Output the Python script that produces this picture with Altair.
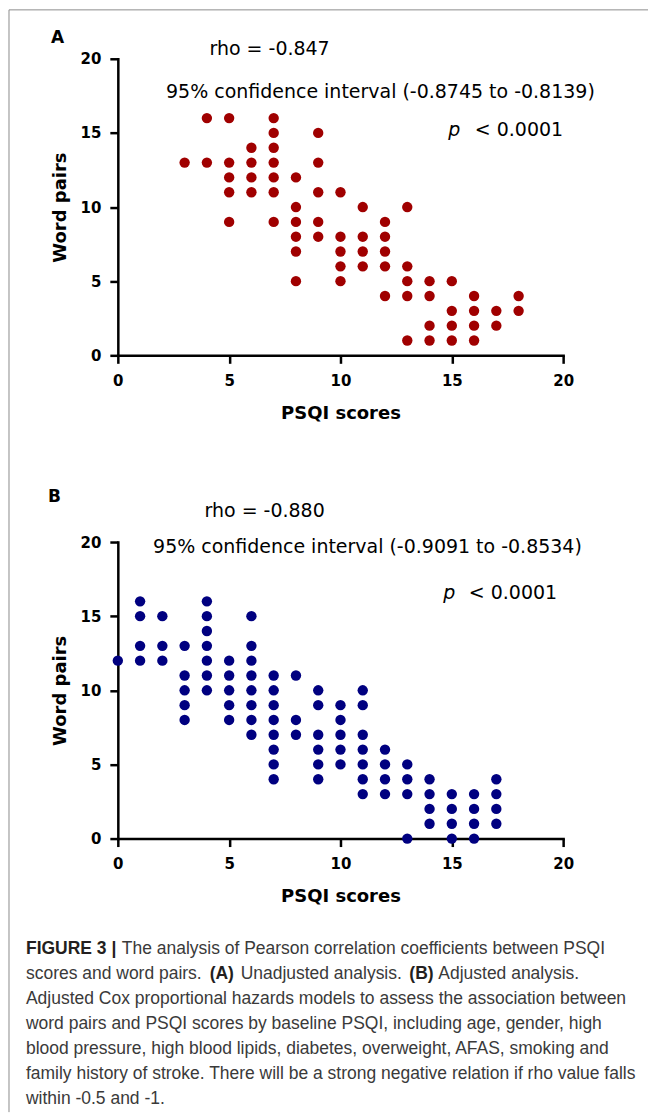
import altair as alt
import pandas as pd

# ---------------- data ----------------
# Panel A (unadjusted analysis)
a_psqi = [3,
          4, 4,
          5, 5, 5, 5, 5,
          6, 6, 6, 6,
          7, 7, 7, 7, 7, 7, 7,
          8, 8, 8, 8, 8, 8,
          9, 9, 9, 9, 9,
          10, 10, 10, 10, 10,
          11, 11, 11, 11,
          12, 12, 12, 12, 12,
          13, 13, 13, 13, 13,
          14, 14, 14, 14,
          15, 15, 15, 15,
          16, 16, 16, 16,
          17, 17,
          18, 18]
a_pairs = [13,
           16, 13,
           16, 13, 12, 11, 9,
           14, 13, 12, 11,
           16, 15, 14, 13, 12, 11, 9,
           12, 10, 9, 8, 7, 5,
           15, 13, 11, 9, 8,
           11, 8, 7, 6, 5,
           10, 8, 7, 6,
           9, 8, 7, 6, 4,
           10, 6, 5, 4, 1,
           5, 4, 2, 1,
           5, 3, 2, 1,
           4, 3, 2, 1,
           3, 2,
           4, 3]

# Panel B (adjusted analysis)
b_psqi = [0,
          1, 1, 1, 1,
          2, 2, 2,
          3, 3, 3, 3, 3,
          4, 4, 4, 4, 4, 4, 4,
          5, 5, 5, 5, 5,
          6, 6, 6, 6, 6, 6, 6, 6,
          7, 7, 7, 7, 7, 7, 7, 7,
          8, 8, 8,
          9, 9, 9, 9, 9, 9,
          10, 10, 10, 10, 10,
          11, 11, 11, 11, 11, 11, 11,
          12, 12, 12, 12,
          13, 13, 13, 13,
          14, 14, 14, 14,
          15, 15, 15, 15,
          16, 16, 16, 16,
          17, 17, 17, 17]
b_pairs = [12,
           16, 15, 13, 12,
           15, 13, 12,
           13, 11, 10, 9, 8,
           16, 15, 14, 13, 12, 11, 10,
           12, 11, 10, 9, 8,
           15, 13, 12, 11, 10, 9, 8, 7,
           11, 10, 9, 8, 7, 6, 5, 4,
           11, 8, 7,
           10, 9, 7, 6, 5, 4,
           9, 8, 7, 6, 5,
           10, 9, 7, 6, 5, 4, 3,
           6, 5, 4, 3,
           5, 4, 3, 0,
           4, 3, 2, 1,
           3, 2, 1, 0,
           3, 2, 1, 0,
           4, 3, 2, 1]

axis_ticks = [0, 5, 10, 15, 20]
panel_labels = ["A", "B"]
rho_texts = ["rho = -0.847", "rho = -0.880"]
ci_texts = ["95% confidence interval (-0.8745 to -0.8139)",
            "95% confidence interval (-0.9091 to -0.8534)"]
p_texts = ["< 0.0001", "< 0.0001"]
x_title = "PSQI scores"
y_title = "Word pairs"

caption_segments = [
    "FIGURE 3 |",
    "The analysis of Pearson correlation coefficients between PSQI",
    "scores and word pairs.",
    "(A)",
    "Unadjusted analysis.",
    "(B)",
    "Adjusted analysis.",
    "Adjusted Cox proportional hazards models to assess the association between",
    "word pairs and PSQI scores by baseline PSQI, including age, gender, high",
    "blood pressure, high blood lipids, diabetes, overweight, AFAS, smoking and",
    "family history of stroke. There will be a strong negative relation if rho value falls",
    "within -0.5 and -1.",
]
caption_bold = [True, False, False, True, False, True, False, False, False, False, False, False]
caption_line = [0, 0, 1, 1, 1, 1, 1, 2, 3, 4, 5, 6]

# ---------------- layout (pixels, relative to each plot area) ----------------
W, H = 446, 297
caption_x = [-92, 4, -92, 92, 123, 292, 321, -92, -92, -92, -92, -92]
caption_y0, caption_dy = 408, 25
layouts = [
    dict(lab=(-67, -21), rho=(152, -10), ci=(263, 33), p=(331, 71), pr=446),
    dict(lab=(-70, -45), rho=(147, -31), ci=(250, 5), p=(326, 51), pr=440),
]
ANN_FONT = "DejaVu Sans"
one = alt.Data(values=[{}])

scale = alt.Scale(domain=[0, 20], nice=False, zero=False)
common_axis = dict(
    values=axis_ticks, grid=False, domainColor="black", domainWidth=2.5,
    domainCap="square", tickColor="black", tickWidth=2.5, tickSize=8,
    labelFont="DejaVu Sans", labelFontWeight="bold", labelFontSize=15,
    labelColor="black", titleFont="DejaVu Sans", titleFontWeight="bold",
    titleFontSize=18, titleColor="black",
)
x_axis = alt.Axis(title=x_title, labelPadding=10, labelFlush=False,
                  titleY=58, titleBaseline="middle", **common_axis)
y_axis = alt.Axis(title=y_title, labelPadding=9, labelFlush=False,
                  titleX=-57, titleY=H / 2, titleAngle=270, titleAlign="center",
                  titleBaseline="middle", **common_axis)


def text_layer(txt, x, y, size=19, weight="normal", style="normal", align="left",
               color="black", font=ANN_FONT):
    return alt.Chart(one).mark_text(
        text=txt, font=font, fontSize=size, fontWeight=weight, fontStyle=style,
        align=align, baseline="middle", color=color,
    ).encode(x=alt.value(x), y=alt.value(y))


def panel(psqi, pairs, color, i):
    df = pd.DataFrame({"PSQI": psqi, "Pairs": pairs})
    lay = layouts[i]
    dots = alt.Chart(df).mark_circle(size=108, opacity=1, color=color).encode(
        x=alt.X("PSQI:Q", scale=scale, axis=x_axis),
        y=alt.Y("Pairs:Q", scale=scale, axis=y_axis),
    )
    layers = [
        dots,
        text_layer(panel_labels[i], lay["lab"][0], lay["lab"][1], size=17, weight="bold"),
        text_layer(rho_texts[i], lay["rho"][0], lay["rho"][1], align="center"),
        text_layer(ci_texts[i], lay["ci"][0], lay["ci"][1], align="center"),
        text_layer("p", lay["p"][0], lay["p"][1], style="italic"),
        text_layer(p_texts[i], lay["pr"], lay["p"][1], align="right"),
    ]
    return layers


layers_a = panel(a_psqi, a_pairs, "#a00000", 0)
# thin grey frame around the figure (top and left edges)
frame_left = alt.Chart(one).mark_rule(color="#8c8c8c", strokeWidth=1).encode(
    x=alt.value(-109), y=alt.value(-49), y2=alt.value(1055))
frame_top = alt.Chart(one).mark_rule(color="#8c8c8c", strokeWidth=1).encode(
    x=alt.value(-109), x2=alt.value(531), y=alt.value(-49))
chart_a = alt.layer(frame_left, frame_top, *layers_a).properties(width=W, height=H)

layers_b = panel(b_psqi, b_pairs, "#000080", 1)
cap_layers = []
for seg, bold, ln, cx in zip(caption_segments, caption_bold, caption_line, caption_x):
    cap_layers.append(text_layer(
        seg, cx, caption_y0 + caption_dy * ln, size=17.5,
        weight="bold" if bold else "normal",
        color="#231f20" if bold else "#3a3a3a", font="Liberation Sans"))
chart_b = alt.layer(*layers_b, *cap_layers).properties(width=W, height=H)

chart = alt.vconcat(chart_a, chart_b, spacing=187, bounds="flush", padding=0) \
    .configure_view(stroke=None)

chart.save("out.html", embed_options={"renderer": "svg", "actions": False})
